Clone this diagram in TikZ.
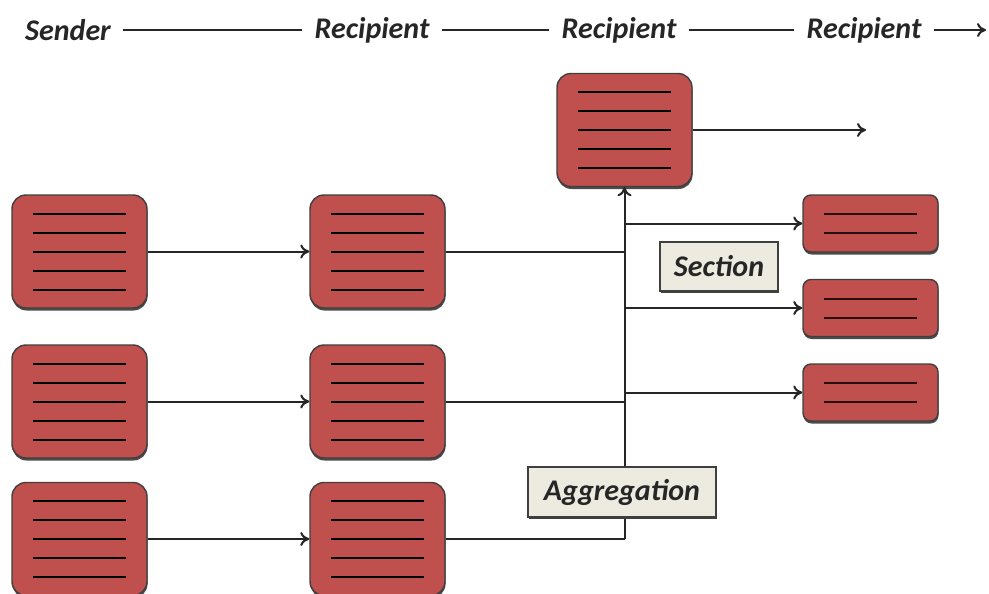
\documentclass[tikz,border=0pt]{standalone}
\usepackage{fontspec}
\setmainfont{Carlito}
\usetikzlibrary{arrows.meta,shadows}
\definecolor{boxred}{HTML}{C0504D}
\definecolor{boxedge}{HTML}{3F3F3F}
\definecolor{labelfill}{HTML}{EDEBE0}
\begin{document}
\begin{tikzpicture}[x=1pt,y=-1pt,
  every node/.style={font=\fontsize{30}{34}\selectfont\bfseries\itshape},
  bigbox/.style={draw=boxedge, line width=1.4pt, fill=boxred, rounded corners=14pt,
    minimum width=135pt, minimum height=113pt, inner sep=0pt,
    drop shadow={shadow xshift=0.5pt, shadow yshift=-2.5pt, fill=black!70, opacity=1},
    path picture={\foreach \k in {-2,...,2}{\draw[line width=2pt, black] ([xshift=-46.5pt]path picture bounding box.center) ++(0,\k*19) -- ++(93,0);}}},
  smallbox/.style={draw=boxedge, line width=1.4pt, fill=boxred, rounded corners=8pt,
    minimum width=135pt, minimum height=57pt, inner sep=0pt,
    drop shadow={shadow xshift=0.5pt, shadow yshift=-2.5pt, fill=black!70, opacity=1},
    path picture={\foreach \k in {-1,1}{\draw[line width=2pt, black!80!boxred] ([xshift=-46.5pt]path picture bounding box.center) ++(0,\k*9.5) -- ++(93,0);}}},
  labelbox/.style={draw=boxedge, line width=1.3pt, fill=labelfill, inner sep=0pt,
    drop shadow={shadow xshift=1pt, shadow yshift=-2pt, fill=black!75, opacity=1},
    text=black!85},
  headlbl/.style={inner xsep=12pt, inner ysep=2pt, text=black!85},
  conn/.style={draw=black!85, line width=2pt},
  arr/.style={conn, -{To[length=9pt,width=14pt]}}
]
\useasboundingbox (0,0) rectangle (989,594);

% header
\node[headlbl] (snd) at (68,30) {Sender};
\node[headlbl] (r1) at (372,30) {Recipient};
\node[headlbl] (r2) at (619,30) {Recipient};
\node[headlbl] (r3) at (864,30) {Recipient};
\coordinate (hend) at (986,30);
\draw[conn] (snd) -- (r1);
\draw[conn] (r1) -- (r2);
\draw[conn] (r2) -- (r3);
\draw[arr] (r3) -- (hend);

% boxes
\node[bigbox] (a1) at (79.5,251.5) {};
\node[bigbox] (a2) at (79.5,401.5) {};
\node[bigbox] (a3) at (79.5,539) {};
\node[bigbox] (b1) at (377.5,251.5) {};
\node[bigbox] (b2) at (377.5,401.5) {};
\node[bigbox] (b3) at (377.5,539) {};
\node[bigbox] (top) at (624.5,130) {};
\node[smallbox] (s1) at (870.5,223.5) {};
\node[smallbox] (s2) at (870.5,308) {};
\node[smallbox] (s3) at (870.5,392.5) {};

\coordinate (topout) at (866,130);
\coordinate (j1) at (624.5,251.5);
\coordinate (j2) at (624.5,401.5);
\coordinate (j3) at (624.5,539);
\coordinate (k1) at (624.5,223.5);
\coordinate (k2) at (624.5,308);
\coordinate (k3) at (624.5,392.5);

% connectors
\draw[arr] (a1) -- (b1);
\draw[arr] (a2) -- (b2);
\draw[arr] (a3) -- (b3);
\draw[conn] (b1) -- (j1);
\draw[conn] (b2) -- (j2);
\draw[conn] (b3) -- (j3);
\draw[arr] (j3) -- (top);
\draw[arr] (top) -- (topout);
\draw[arr] (k1) -- (s1);
\draw[arr] (k2) -- (s2);
\draw[arr] (k3) -- (s3);

% labels
\node[labelbox, minimum width=118pt, minimum height=49pt] (sec) at (719,266.5) {Section};
\node[labelbox, minimum width=188pt, minimum height=50pt] (agg) at (622,492) {Aggregation};
\end{tikzpicture}
\end{document}
